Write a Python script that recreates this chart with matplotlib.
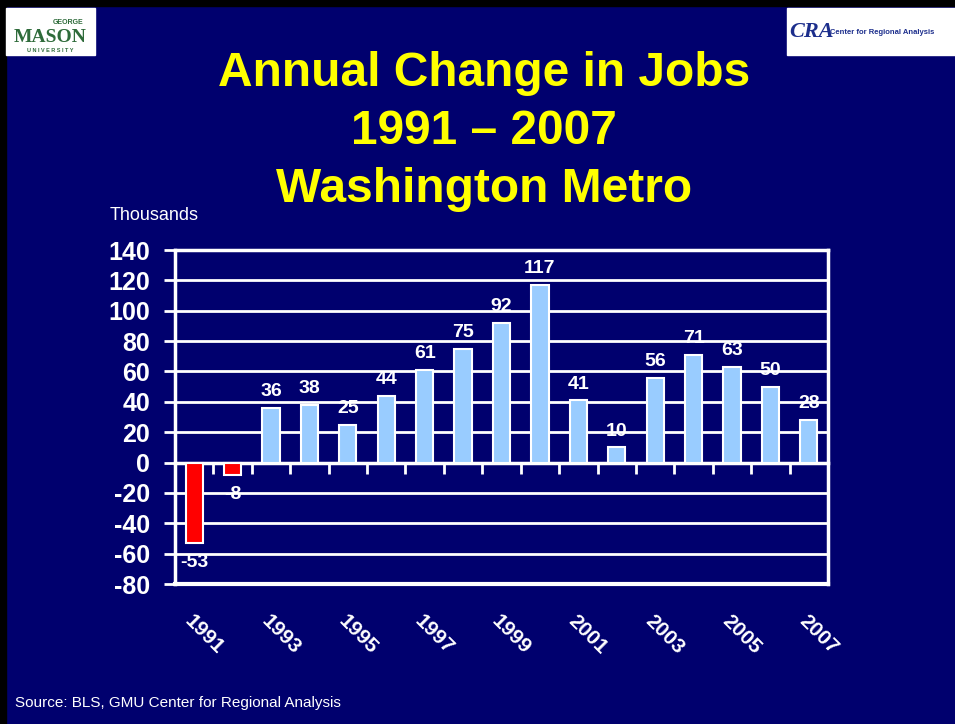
import matplotlib
matplotlib.use('Agg')
import matplotlib.pyplot as plt
from matplotlib.patches import Rectangle
import numpy as np

# data
years = list(range(1991, 2008))
job_change = [-53, -8, 36, 38, 25, 44, 61, 75, 92, 117, 41, 10, 56, 71, 63, 50, 28]
year_labels = [str(y) if y % 2 == 1 else '' for y in years]
y_ticks = list(range(-80, 141, 20))

NAVY = '#00006E'
FONT = 'Liberation Sans'
plt.rcParams['font.family'] = [FONT, 'DejaVu Sans']

W, H = 955, 724
fig = plt.figure(figsize=(W / 100, H / 100), dpi=100, facecolor=NAVY)

# black border on the left and top
fig.patches.append(Rectangle((0, 0), 6 / W, 1, transform=fig.transFigure, color='black', zorder=0))
fig.patches.append(Rectangle((0, 1 - 6 / H), 1, 6 / H, transform=fig.transFigure, color='black', zorder=0))

# logos (white boxes)
fig.patches.append(Rectangle((6 / W, 1 - 55 / H), 89 / W, 47 / H, transform=fig.transFigure,
                             color='white', zorder=1))
fig.patches.append(Rectangle((787 / W, 1 - 55 / H), 168 / W, 47 / H, transform=fig.transFigure,
                             color='white', zorder=1))
fig.text(68 / W, 1 - 22 / H, 'GEORGE', color='#2E6B3A', fontsize=5, fontweight='bold',
         ha='center', va='center', zorder=2)
fig.text(50 / W, 1 - 37 / H, 'MASON', color='#2E6B3A', fontsize=14, fontweight='bold',
         family='Liberation Serif', ha='center', va='center', zorder=2)
fig.text(50 / W, 1 - 50 / H, 'U N I V E R S I T Y', color='#2E6B3A', fontsize=4, fontweight='bold',
         ha='center', va='center', zorder=2)
fig.text(789 / W, 1 - 32 / H, 'CRA', color='#1C2E8C', fontsize=16, fontweight='bold',
         family='Liberation Serif', style='italic', ha='left', va='center', zorder=2)
fig.text(830 / W, 1 - 33 / H, 'Center for Regional Analysis', color='#1C2E8C', fontsize=5.5,
         fontweight='bold', ha='left', va='center', zorder=2)

# title
title_lines = ['Annual Change in Jobs', '1991 \u2013 2007', 'Washington Metro']
for i, line in enumerate(title_lines):
    fig.text(484 / W, 1 - (74 + 58 * i) / H, line, color='#FFFF00', fontsize=34.5,
             fontweight='bold', ha='center', va='center')

fig.text(110 / W, 1 - 216 / H, 'Thousands', color='white', fontsize=13, ha='left', va='center')
fig.text(15 / W, 1 - 703 / H, 'Source: BLS, GMU Center for Regional Analysis', color='white',
         fontsize=11, ha='left', va='center')

# chart
ax = fig.add_axes([175 / W, 1 - 584 / H, 653 / W, 334 / H])
ax.set_facecolor(NAVY)
x = np.arange(len(years))
colors = ['#FF0000' if v < 0 else '#99CCFF' for v in job_change]
ax.bar(x, job_change, width=0.45, color=colors, edgecolor='white', linewidth=1.5, zorder=3)

for xi, v in zip(x, job_change):
    off = 5.5 if v >= 0 else -8
    ax.annotate(str(v), (xi, v), xytext=(0, off), textcoords='offset points',
                ha='center', va='bottom' if v >= 0 else 'top',
                color='white', fontsize=14, fontweight='bold', zorder=4)

ax.set_xlim(-0.5, len(years) - 0.5)
ax.set_ylim(-80, 140)
ax.set_yticks(y_ticks)
ax.set_yticklabels([str(t) for t in y_ticks], color='white', fontsize=18, fontweight='bold')
ax.tick_params(axis='y', direction='out', length=8, width=2, color='white', pad=10)
ax.grid(axis='y', color='white', linewidth=2, zorder=1)
ax.set_axisbelow(True)

# category axis crossing at zero
ax.spines['bottom'].set_position(('data', 0))
ax.set_xticks(x)
ax.set_xticklabels(year_labels, color='white', fontsize=15, fontweight='bold',
                   rotation=-45, ha='left', va='top', rotation_mode='anchor')
ax.set_xticks(np.arange(len(years) + 1) - 0.5, minor=True)
ax.tick_params(axis='x', which='major', length=0, pad=107)
ax.tick_params(axis='x', which='minor', direction='out', length=8, width=2, color='white')
for side in ['left', 'right', 'top', 'bottom']:
    ax.spines[side].set_color('white')
    ax.spines[side].set_linewidth(2.5)
ax.axhline(-80, color='white', linewidth=3, clip_on=False, zorder=2)

fig.savefig('out.png', dpi=100, facecolor=NAVY)
